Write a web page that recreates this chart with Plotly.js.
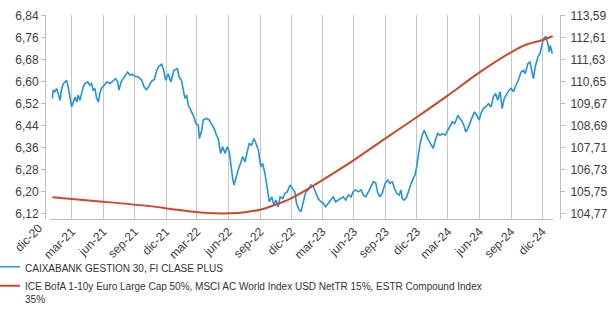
<!DOCTYPE html>
<html>
<head>
<meta charset="utf-8">
<script src="https://cdn.plot.ly/plotly-3.0.1.min.js"></script>
<style>
html,body{margin:0;padding:0;background:#fff;}
#chart{width:608px;height:313px;}
</style>
</head>
<body>
<div id="chart"></div>
<script>
// ---- data ----
const fundName = "CAIXABANK GESTION 30, FI CLASE PLUS";
const benchName = "ICE BofA 1-10y Euro Large Cap 50%, MSCI AC World Index USD NetTR 15%, ESTR Compound Index<br>35%";

const fundDates = [
"2021-01-04","2021-01-06","2021-01-11","2021-01-16","2021-01-21","2021-01-26","2021-01-31","2021-02-05","2021-02-14","2021-02-19",
"2021-02-24","2021-03-01","2021-03-06","2021-03-11","2021-03-16","2021-03-20","2021-03-25","2021-03-30","2021-04-04","2021-04-09",
"2021-04-17","2021-04-23","2021-04-28","2021-05-03","2021-05-08","2021-05-13","2021-05-18","2021-05-22","2021-05-27","2021-06-04",
"2021-06-11","2021-06-21","2021-06-30","2021-07-07","2021-07-13","2021-07-17","2021-07-23","2021-07-29","2021-08-05","2021-08-11",
"2021-08-18","2021-08-25","2021-09-01","2021-09-11","2021-09-21","2021-09-28","2021-10-05","2021-10-12","2021-10-20","2021-10-28",
"2021-11-04","2021-11-10","2021-11-18","2021-11-23","2021-11-30","2021-12-07","2021-12-15","2021-12-22","2021-12-24","2022-01-03",
"2022-01-08","2022-01-15","2022-01-20","2022-01-25","2022-01-30","2022-02-04","2022-02-09","2022-02-14","2022-02-20","2022-02-26",
"2022-03-05","2022-03-08","2022-03-15","2022-03-19","2022-03-29","2022-04-06","2022-04-13","2022-04-20","2022-04-27","2022-05-02",
"2022-05-09","2022-05-15","2022-05-22","2022-05-28","2022-06-03","2022-06-08","2022-06-13","2022-06-17","2022-06-23","2022-06-29",
"2022-07-06","2022-07-12","2022-07-19","2022-07-26","2022-07-31","2022-08-07","2022-08-14","2022-08-20","2022-08-27","2022-09-03",
"2022-09-08","2022-09-15","2022-09-22","2022-09-28","2022-10-05","2022-10-11","2022-10-17","2022-10-24","2022-10-29","2022-11-06",
"2022-11-12","2022-11-19","2022-11-27","2022-12-05","2022-12-11","2022-12-16","2022-12-24","2022-12-29","2023-01-05","2023-01-12",
"2023-01-19","2023-01-27","2023-02-03","2023-02-10","2023-02-17","2023-02-25","2023-03-04","2023-03-11","2023-03-19","2023-03-26",
"2023-04-02","2023-04-09","2023-04-17","2023-04-25","2023-05-01","2023-05-08","2023-05-16","2023-05-24","2023-05-30","2023-06-06",
"2023-06-14","2023-06-22","2023-06-29","2023-07-06","2023-07-13","2023-07-21","2023-07-28","2023-08-04","2023-08-09","2023-08-16",
"2023-08-23","2023-08-31","2023-09-08","2023-09-14","2023-09-21","2023-09-27","2023-10-04","2023-10-11","2023-10-16","2023-10-20",
"2023-10-26","2023-11-02","2023-11-09","2023-11-15","2023-11-21","2023-11-26","2023-12-01","2023-12-06","2023-12-11","2023-12-17",
"2023-12-23","2024-01-02","2024-01-09","2024-01-14","2024-01-18","2024-01-23","2024-01-31","2024-02-07","2024-02-14","2024-02-22",
"2024-02-29","2024-03-07","2024-03-14","2024-03-21","2024-03-30","2024-04-05","2024-04-12","2024-04-18","2024-04-22","2024-04-28",
"2024-05-04","2024-05-11","2024-05-17","2024-05-24","2024-05-31","2024-06-05","2024-06-12","2024-06-19","2024-06-27","2024-07-05",
"2024-07-11","2024-07-18","2024-07-24","2024-07-31","2024-08-06","2024-08-12","2024-08-19","2024-08-26","2024-09-01","2024-09-08",
"2024-09-15","2024-09-22","2024-09-30","2024-10-07","2024-10-12","2024-10-20","2024-10-26","2024-10-31","2024-11-05","2024-11-10",
"2024-11-18","2024-11-24","2024-11-29","2024-12-04","2024-12-11","2024-12-17","2024-12-21","2024-12-24","2024-12-30"
];
const fundValues = [
6.538,6.568,6.562,6.574,6.556,6.531,6.574,6.592,6.604,6.580,
6.543,6.507,6.525,6.543,6.525,6.550,6.531,6.562,6.580,6.592,
6.598,6.586,6.592,6.568,6.574,6.538,6.525,6.556,6.574,6.586,
6.598,6.592,6.604,6.610,6.598,6.568,6.598,6.610,6.622,6.634,
6.622,6.626,6.619,6.616,6.604,6.580,6.570,6.582,6.601,6.607,
6.640,6.655,6.662,6.646,6.604,6.628,6.598,6.634,6.640,6.646,
6.616,6.604,6.568,6.538,6.550,6.513,6.501,6.489,6.471,6.447,
6.441,6.392,6.422,6.459,6.465,6.459,6.441,6.429,6.404,6.392,
6.338,6.362,6.338,6.362,6.344,6.289,6.247,6.223,6.253,6.277,
6.302,6.326,6.307,6.350,6.374,6.368,6.392,6.374,6.350,6.289,
6.302,6.265,6.205,6.162,6.180,6.150,6.168,6.144,6.180,6.174,
6.193,6.198,6.223,6.211,6.198,6.156,6.132,6.126,6.168,6.198,
6.205,6.223,6.217,6.198,6.174,6.162,6.156,6.144,6.156,6.168,
6.180,6.162,6.168,6.174,6.180,6.168,6.186,6.180,6.198,6.205,
6.198,6.205,6.186,6.180,6.198,6.217,6.235,6.229,6.198,6.180,
6.193,6.229,6.241,6.229,6.235,6.211,6.193,6.186,6.205,6.174,
6.168,6.180,6.211,6.229,6.247,6.259,6.289,6.338,6.374,6.404,
6.422,6.392,6.374,6.362,6.356,6.380,6.410,6.404,6.410,6.404,
6.422,6.441,6.453,6.447,6.477,6.465,6.453,6.434,6.416,6.429,
6.447,6.471,6.489,6.477,6.459,6.483,6.501,6.507,6.519,6.507,
6.543,6.556,6.531,6.562,6.501,6.538,6.556,6.568,6.574,6.562,
6.586,6.604,6.634,6.640,6.628,6.665,6.670,6.640,6.610,6.652,
6.689,6.701,6.731,6.755,6.764,6.737,6.707,6.731,6.701
];

const benchDates = [
"2021-01-04","2021-05-22","2021-10-15","2021-12-27","2022-03-10","2022-04-22","2022-06-05","2022-07-19",
"2022-09-01","2022-10-14","2022-11-27","2022-12-26","2023-02-27","2023-05-30","2023-08-31","2023-12-01",
"2024-02-27","2024-06-02","2024-09-06","2024-10-14","2024-11-29","2024-12-31"
];
const benchValues = [
105.48,105.30,105.09,104.94,104.81,104.77,104.77,104.82,
104.93,105.14,105.41,105.65,106.23,107.12,108.10,109.05,
109.99,111.06,111.99,112.28,112.48,112.66
];

const xTickDates = ["2021-03-01","2021-06-01","2021-09-01","2021-12-01","2022-03-01","2022-06-01","2022-09-01","2022-12-01",
"2023-03-01","2023-06-01","2023-09-01","2023-12-01","2024-03-01","2024-06-01","2024-09-01","2024-12-01"];
const xTickLabels = ["mar-21","jun-21","sep-21","dic-21","mar-22","jun-22","sep-22","dic-22",
"mar-23","jun-23","sep-23","dic-23","mar-24","jun-24","sep-24","dic-24"];
const firstTickLabel = "dic-20";

const leftTicks = [6.12,6.20,6.28,6.36,6.44,6.52,6.60,6.68,6.76,6.84];
const rightTicks = [104.77,105.75,106.73,107.71,108.69,109.67,110.65,111.63,112.61,113.59];

const xRange = ["2020-12-28","2025-01-01"];

// ---- chart ----
const tickFont = {family: "Liberation Sans, Arial, sans-serif", size: 12, color: "#404040"};
const axisGrey = "#bdbdbd";

const traces = [
  {x: fundDates, y: fundValues, name: fundName, type: "scatter", mode: "lines",
   line: {color: "#2196dc", width: 1.6}, yaxis: "y", hoverinfo: "skip"},
  {x: benchDates, y: benchValues, name: benchName, type: "scatter", mode: "lines",
   line: {color: "#d5452a", width: 2, shape: "spline", smoothing: 0.8}, yaxis: "y2", hoverinfo: "skip"}
];

const layout = {
  width: 608, height: 313,
  margin: {l: 45, r: 48, t: 15, b: 94, autoexpand: false},
  paper_bgcolor: "#ffffff", plot_bgcolor: "#ffffff",
  separators: ",.",
  showlegend: true,
  font: {family: "Liberation Sans, Arial, sans-serif", size: 12, color: "#404040"},
  xaxis: {
    type: "date", range: xRange, domain: [0.0097, 0.9864],
    anchor: "y",
    tickvals: xTickDates, ticktext: xTickLabels, tickangle: -45,
    tickfont: tickFont, ticks: "", showgrid: true, gridcolor: "#c8c8c8", gridwidth: 1,
    showline: true, linecolor: axisGrey, linewidth: 1, zeroline: false
  },
  yaxis: {
    range: [6.0993, 6.8415], domain: [0, 1], anchor: "free", position: 0,
    tickvals: leftTicks, tickformat: ".2f", tickfont: tickFont,
    ticks: "outside", ticklen: 4, tickcolor: axisGrey,
    showgrid: false, zeroline: false, showline: true, linecolor: axisGrey, linewidth: 1
  },
  yaxis2: {
    range: [104.516, 113.608], domain: [0, 1], anchor: "free", position: 1,
    overlaying: "y", side: "right",
    tickvals: rightTicks, tickformat: ".2f", tickfont: tickFont,
    ticks: "outside", ticklen: 4, tickcolor: axisGrey, ticklabelstandoff: 3,
    showgrid: false, zeroline: false, showline: true, linecolor: axisGrey, linewidth: 1
  },
  legend: {
    orientation: "v", x: -0.1165, xanchor: "left", y: -0.17, yanchor: "top",
    font: {family: "Liberation Sans, Arial, sans-serif", size: 10, color: "#333333"},
    bgcolor: "rgba(0,0,0,0)", borderwidth: 0, valign: "top", tracegroupgap: 0
  },
  annotations: [{
    x: -0.0324, xref: "paper", y: -0.0907, yref: "paper",
    text: firstTickLabel, showarrow: false, textangle: -45,
    xanchor: "center", yanchor: "middle", font: tickFont
  }]
};

Plotly.newPlot("chart", traces, layout, {staticPlot: true, displayModeBar: false});
</script>
</body>
</html>
